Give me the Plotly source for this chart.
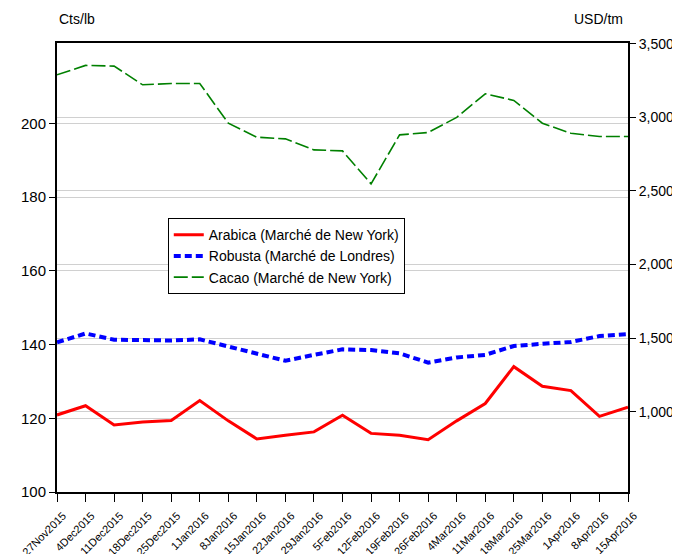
import plotly.graph_objects as go

dates = ["27Nov2015", "4Dec2015", "11Dec2015", "18Dec2015", "25Dec2015", "1Jan2016",
         "8Jan2016", "15Jan2016", "22Jan2016", "29Jan2016", "5Feb2016", "12Feb2016",
         "19Feb2016", "26Feb2016", "4Mar2016", "11Mar2016", "18Mar2016", "25Mar2016",
         "1Apr2016", "8Apr2016", "15Apr2016"]

arabica = [120.9, 123.4, 118.2, 119.0, 119.4, 124.8, 119.3, 114.4, 115.4, 116.3, 120.8, 115.9,
           115.4, 114.2, 119.3, 124.0, 134.0, 128.7, 127.5, 120.5, 123.0]
robusta = [140.6, 143.0, 141.3, 141.1, 141.1, 141.4, 139.4, 137.4, 135.6, 137.2, 138.7, 138.5,
           137.6, 135.1, 136.5, 137.2, 139.6, 140.2, 140.7, 142.3, 142.8]
cacao = [3289, 3353, 3348, 3221, 3230, 3230, 2960, 2865, 2854, 2779, 2772, 2548,
         2881, 2897, 3000, 3160, 3115, 2960, 2892, 2870, 2870]

left_ticks = [100, 120, 140, 160, 180, 200]
right_ticks = [1000, 1500, 2000, 2500, 3000, 3500]

font_family = "Liberation Sans, Arial, sans-serif"

fig = go.Figure()
fig.add_trace(go.Scatter(x=dates, y=arabica, mode="lines", name="Arabica (Marché de New York)",
                         line=dict(color="#ff0000", width=3)))
fig.add_trace(go.Scatter(x=dates, y=robusta, mode="lines", name="Robusta (Marché de Londres)",
                         line=dict(color="#0000ff", width=4, dash="7px,4px")))
fig.add_trace(go.Scatter(x=dates, y=cacao, mode="lines", name="Cacao (Marché de New York)",
                         line=dict(color="#008000", width=1.6, dash="14px,4px"), yaxis="y2"))

# page body has an 8px default margin, compensated in the figure margins
fig.update_layout(
    width=680, height=554,
    margin=dict(l=49, r=60, t=35, b=70),
    paper_bgcolor="white", plot_bgcolor="white",
    font=dict(family=font_family, color="black"),
    showlegend=True,
    legend=dict(x=0.194, y=0.61, xanchor="left", yanchor="top",
                bordercolor="black", borderwidth=1, bgcolor="white",
                font=dict(size=14, family=font_family), tracegroupgap=0,
                itemwidth=30),
    xaxis=dict(type="category", range=[0, 20], tickmode="array", tickvals=dates, ticktext=dates,
               tickangle=-45, tickfont=dict(size=11), ticks="outside", ticklen=8,
               tickcolor="black", showline=True, linecolor="black", linewidth=2,
               mirror=True, showgrid=False, zeroline=False, automargin=False,
               ticklabelshift=6, ticklabelstandoff=3),
    yaxis=dict(range=[100, 221.8], tickvals=left_ticks, ticks="outside", ticklen=6,
               tickcolor="black", tickfont=dict(size=15), showline=True, linecolor="black",
               linewidth=2, showgrid=True, gridcolor="#d0d0d0", gridwidth=1, zeroline=False,
               automargin=False),
    yaxis2=dict(range=[455, 3505], tickvals=right_ticks, tickformat=",", overlaying="y",
                side="right", ticks="outside", ticklen=6, tickcolor="black",
                tickfont=dict(size=14), showline=True, linecolor="black", linewidth=2,
                showgrid=True, gridcolor="#d0d0d0", gridwidth=1, zeroline=False,
                automargin=False),
    annotations=[
        dict(text="Cts/lb", xref="paper", yref="paper", x=0.0, y=1.0, xanchor="left",
             yanchor="bottom", yshift=14, showarrow=False, font=dict(size=14)),
        dict(text="USD/tm", xref="paper", yref="paper", x=0.995, y=1.0, xanchor="right",
             yanchor="bottom", yshift=14, showarrow=False, font=dict(size=14)),
    ],
)

fig.write_html("out.html")
